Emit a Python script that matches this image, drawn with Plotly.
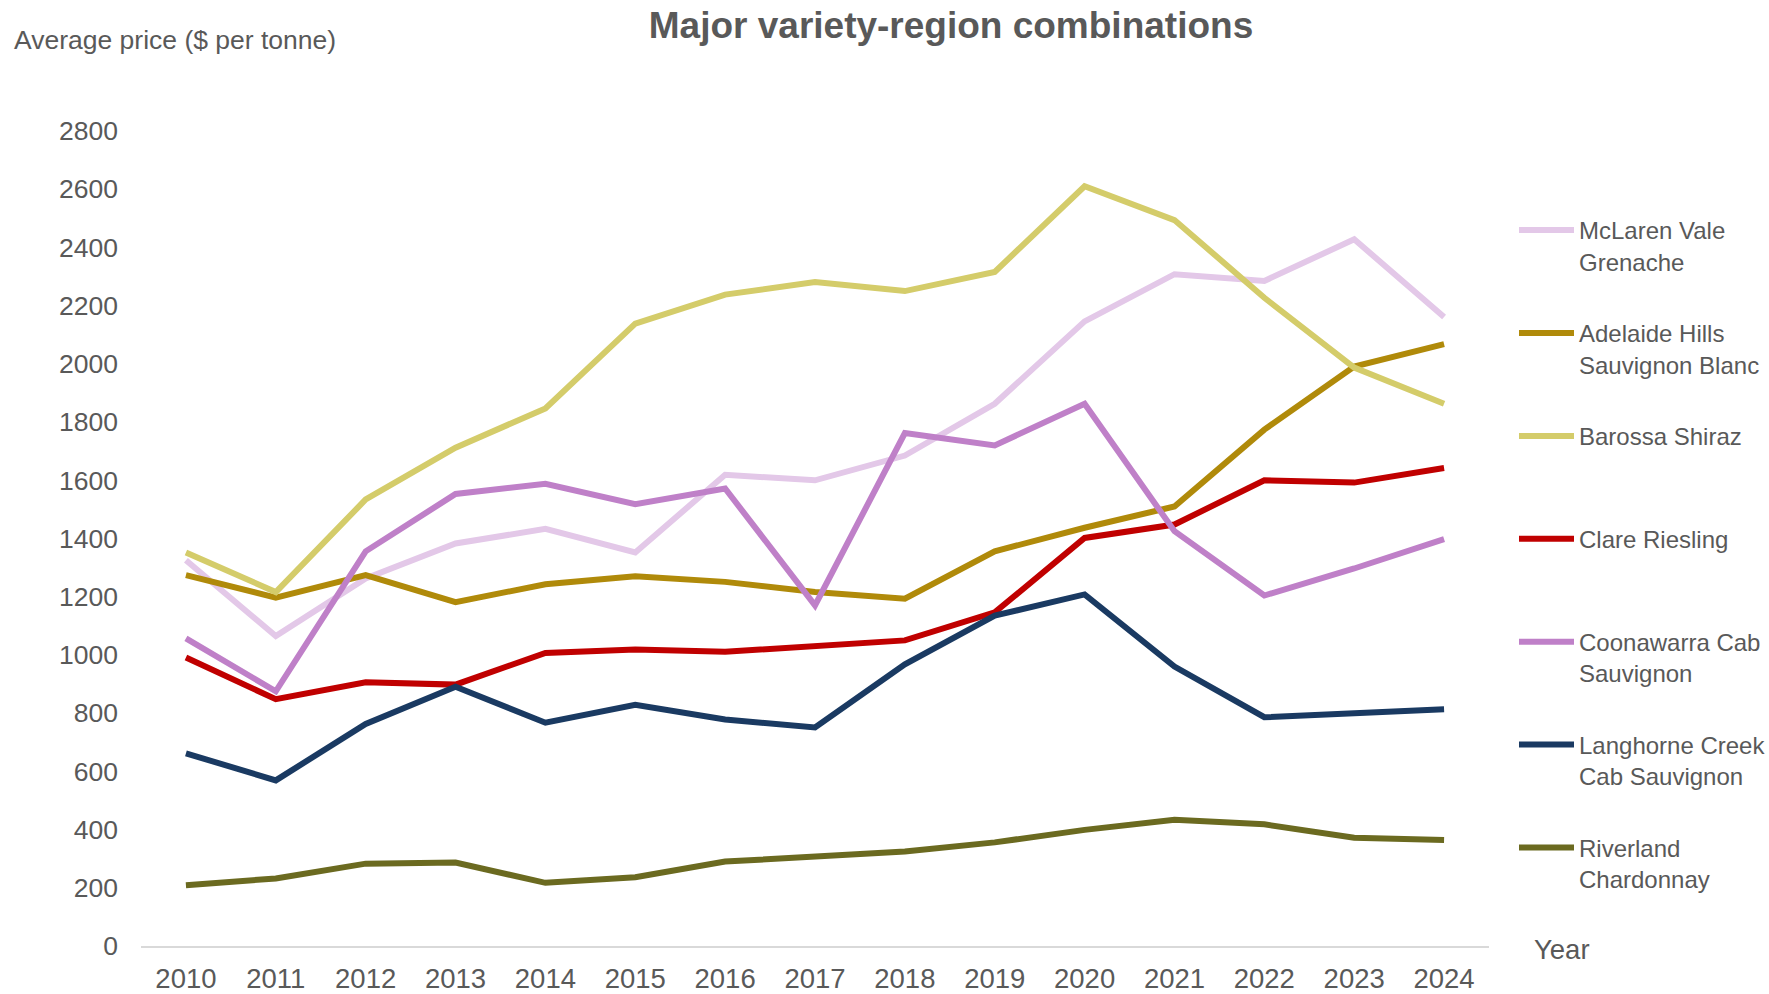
import plotly.graph_objects as go

years = ["2010", "2011", "2012", "2013", "2014", "2015", "2016", "2017",
         "2018", "2019", "2020", "2021", "2022", "2023", "2024"]

mclaren_vale_grenache = [1325, 1065, 1263, 1383, 1433, 1352, 1619, 1600, 1685, 1863, 2146, 2308, 2285, 2428, 2161]
adelaide_hills_sb = [1274, 1197, 1274, 1181, 1243, 1270, 1251, 1216, 1193, 1356, 1437, 1510, 1774, 1991, 2068]
barossa_shiraz = [1352, 1216, 1534, 1712, 1847, 2138, 2238, 2281, 2250, 2316, 2610, 2494, 2227, 1987, 1863]
clare_riesling = [991, 848, 906, 898, 1007, 1019, 1011, 1030, 1050, 1146, 1402, 1448, 1600, 1592, 1642]
coonawarra_cs = [1057, 875, 1356, 1553, 1588, 1518, 1572, 1170, 1762, 1720, 1863, 1425, 1204, 1297, 1398]
langhorne_creek_cs = [662, 569, 763, 891, 767, 829, 778, 751, 968, 1135, 1208, 960, 786, 802, 813]
riverland_chardonnay = [209, 232, 283, 287, 217, 236, 290, 310, 325, 356, 399, 434, 418, 372, 364]

series_names = [
    "McLaren Vale<br>Grenache",
    "Adelaide Hills<br>Sauvignon Blanc",
    "Barossa Shiraz<br>&nbsp;",
    "Clare Riesling<br>&nbsp;",
    "Coonawarra Cab<br>Sauvignon",
    "Langhorne Creek<br>Cab Sauvignon",
    "Riverland<br>Chardonnay",
]
series_values = [mclaren_vale_grenache, adelaide_hills_sb, barossa_shiraz, clare_riesling,
                 coonawarra_cs, langhorne_creek_cs, riverland_chardonnay]
series_colors = ["#E3C8E8", "#B08A0A", "#D4CC6A", "#C00000", "#BF80C8", "#1A3A62", "#6B6A20"]

y_ticks = list(range(0, 2801, 200))

W, H = 1769, 994
L, R, T, B = 141, 1489, 131, 946
pw, ph = R - L, B - T

fig = go.Figure()
for i, (name, vals, col) in enumerate(zip(series_names, series_values, series_colors)):
    fig.add_trace(go.Scatter(
        x=years, y=vals, name=name, mode="lines",
        line=dict(color=col, width=6),
        legendgroup=f"g{i}",
    ))

gray = "#595959"
fig.update_layout(
    width=W, height=H,
    margin=dict(l=L, r=W - R, t=T, b=H - B, autoexpand=False),
    paper_bgcolor="white", plot_bgcolor="white",
    font=dict(family="Liberation Sans, Arial, sans-serif", color=gray, size=25),
    title=dict(text="<b>Major variety-region combinations</b>",
               x=951 / W, xref="container", xanchor="center",
               y=1 - 25 / H, yref="container", yanchor="middle",
               font=dict(size=37, color=gray)),
    showlegend=True,
    legend=dict(x=(1514 - L) / pw, xanchor="left", y=(B - 208) / ph, yanchor="top",
                font=dict(size=24, color=gray), tracegroupgap=37.5, valign="top",
                itemwidth=55, bgcolor="rgba(0,0,0,0)"),
    xaxis=dict(type="category", range=[-0.5, 14.5], showgrid=False,
               showline=True, linecolor="#D9D9D9", linewidth=1.5,
               ticks="", tickfont=dict(size=27.5, color=gray), ticklabelstandoff=7),
    yaxis=dict(range=[0, 2800], tickvals=y_ticks, showgrid=False, zeroline=False,
               showline=False, ticks="", tickfont=dict(size=26.5, color=gray),
               ticklabelstandoff=22),
    annotations=[
        dict(text="Average price ($ per tonne)", xref="paper", yref="paper",
             x=(12 - L) / pw, y=(B - 40) / ph, xanchor="left", yanchor="middle",
             showarrow=False, font=dict(size=26.5, color=gray)),
        dict(text="Year", xref="paper", yref="paper",
             x=(1532 - L) / pw, y=(B - 949) / ph, xanchor="left", yanchor="middle",
             showarrow=False, font=dict(size=27.5, color=gray)),
    ],
)

fig.write_html(
    "out.html",
    config={"displayModeBar": False},
    post_script="document.body.style.margin='0px';document.body.style.overflow='hidden';",
)
